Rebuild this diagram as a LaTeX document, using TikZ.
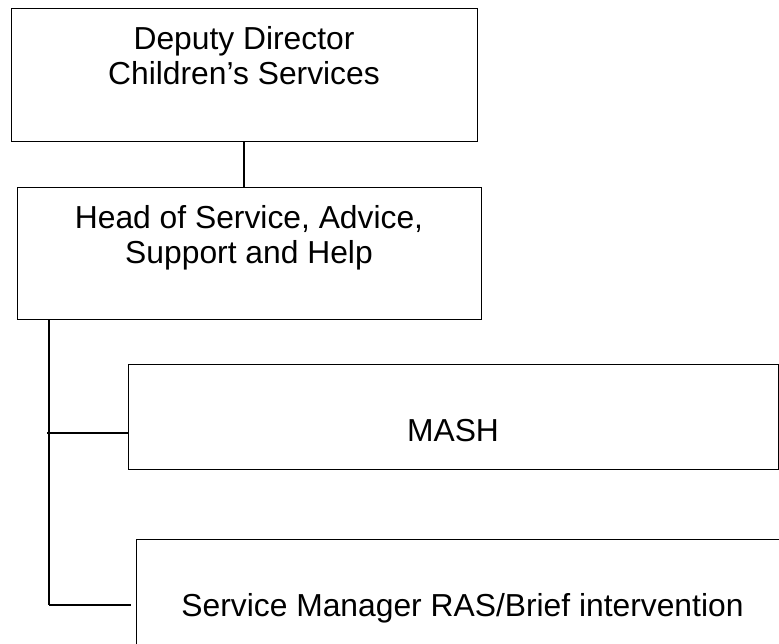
\documentclass[tikz,border=0pt]{standalone}
\usepackage{fontspec}
\setmainfont{Liberation Sans}
\begin{document}
\begin{tikzpicture}[x=1pt,y=-1pt,
  box/.style={draw=black,line width=1pt,inner sep=0pt,outer sep=0pt,fill=white},
  link/.style={draw=black,line width=1.2pt}]
\useasboundingbox (0,0) rectangle (779,644);
\clip (0,0) rectangle (779,644);
\fill[white] (0,0) rectangle (779,644);
\newcommand{\boxtext}[4]{\parbox[t][#1pt][t]{#2pt}{\centering\fontsize{31.8}{35}\selectfont\vspace*{#3pt}#4\par}}
\node[box] (dd) at (244,75.5) {\boxtext{133}{466}{17.2}{Deputy Director\\Children’s Services}};
\node[box] (hos) at (249,254) {\boxtext{132}{464}{17.2}{Head of Service, Advice,\\Support and Help}};
\node[box] (mash) at (453,416.5) {\boxtext{105}{650}{55.2}{MASH}};
\node[box] (sm) at (462.5,600) {\boxtext{122}{653}{54.2}{Service Manager RAS/Brief intervention}};
\coordinate (trunk) at ([xshift=32pt]hos.south west);
\coordinate (mjoin) at ([yshift=-16.5pt]mash.west);
\coordinate (sjoin) at ([xshift=-5pt,yshift=-5pt]sm.west);
\draw[link] (dd.south) -- (dd.south |- hos.north);
\draw[link] (trunk) -- (trunk |- sjoin);
\draw[link] ([xshift=-2pt]trunk |- mjoin) -- (mjoin);
\draw[link] (trunk |- sjoin) -- (sjoin);
\end{tikzpicture}
\end{document}
